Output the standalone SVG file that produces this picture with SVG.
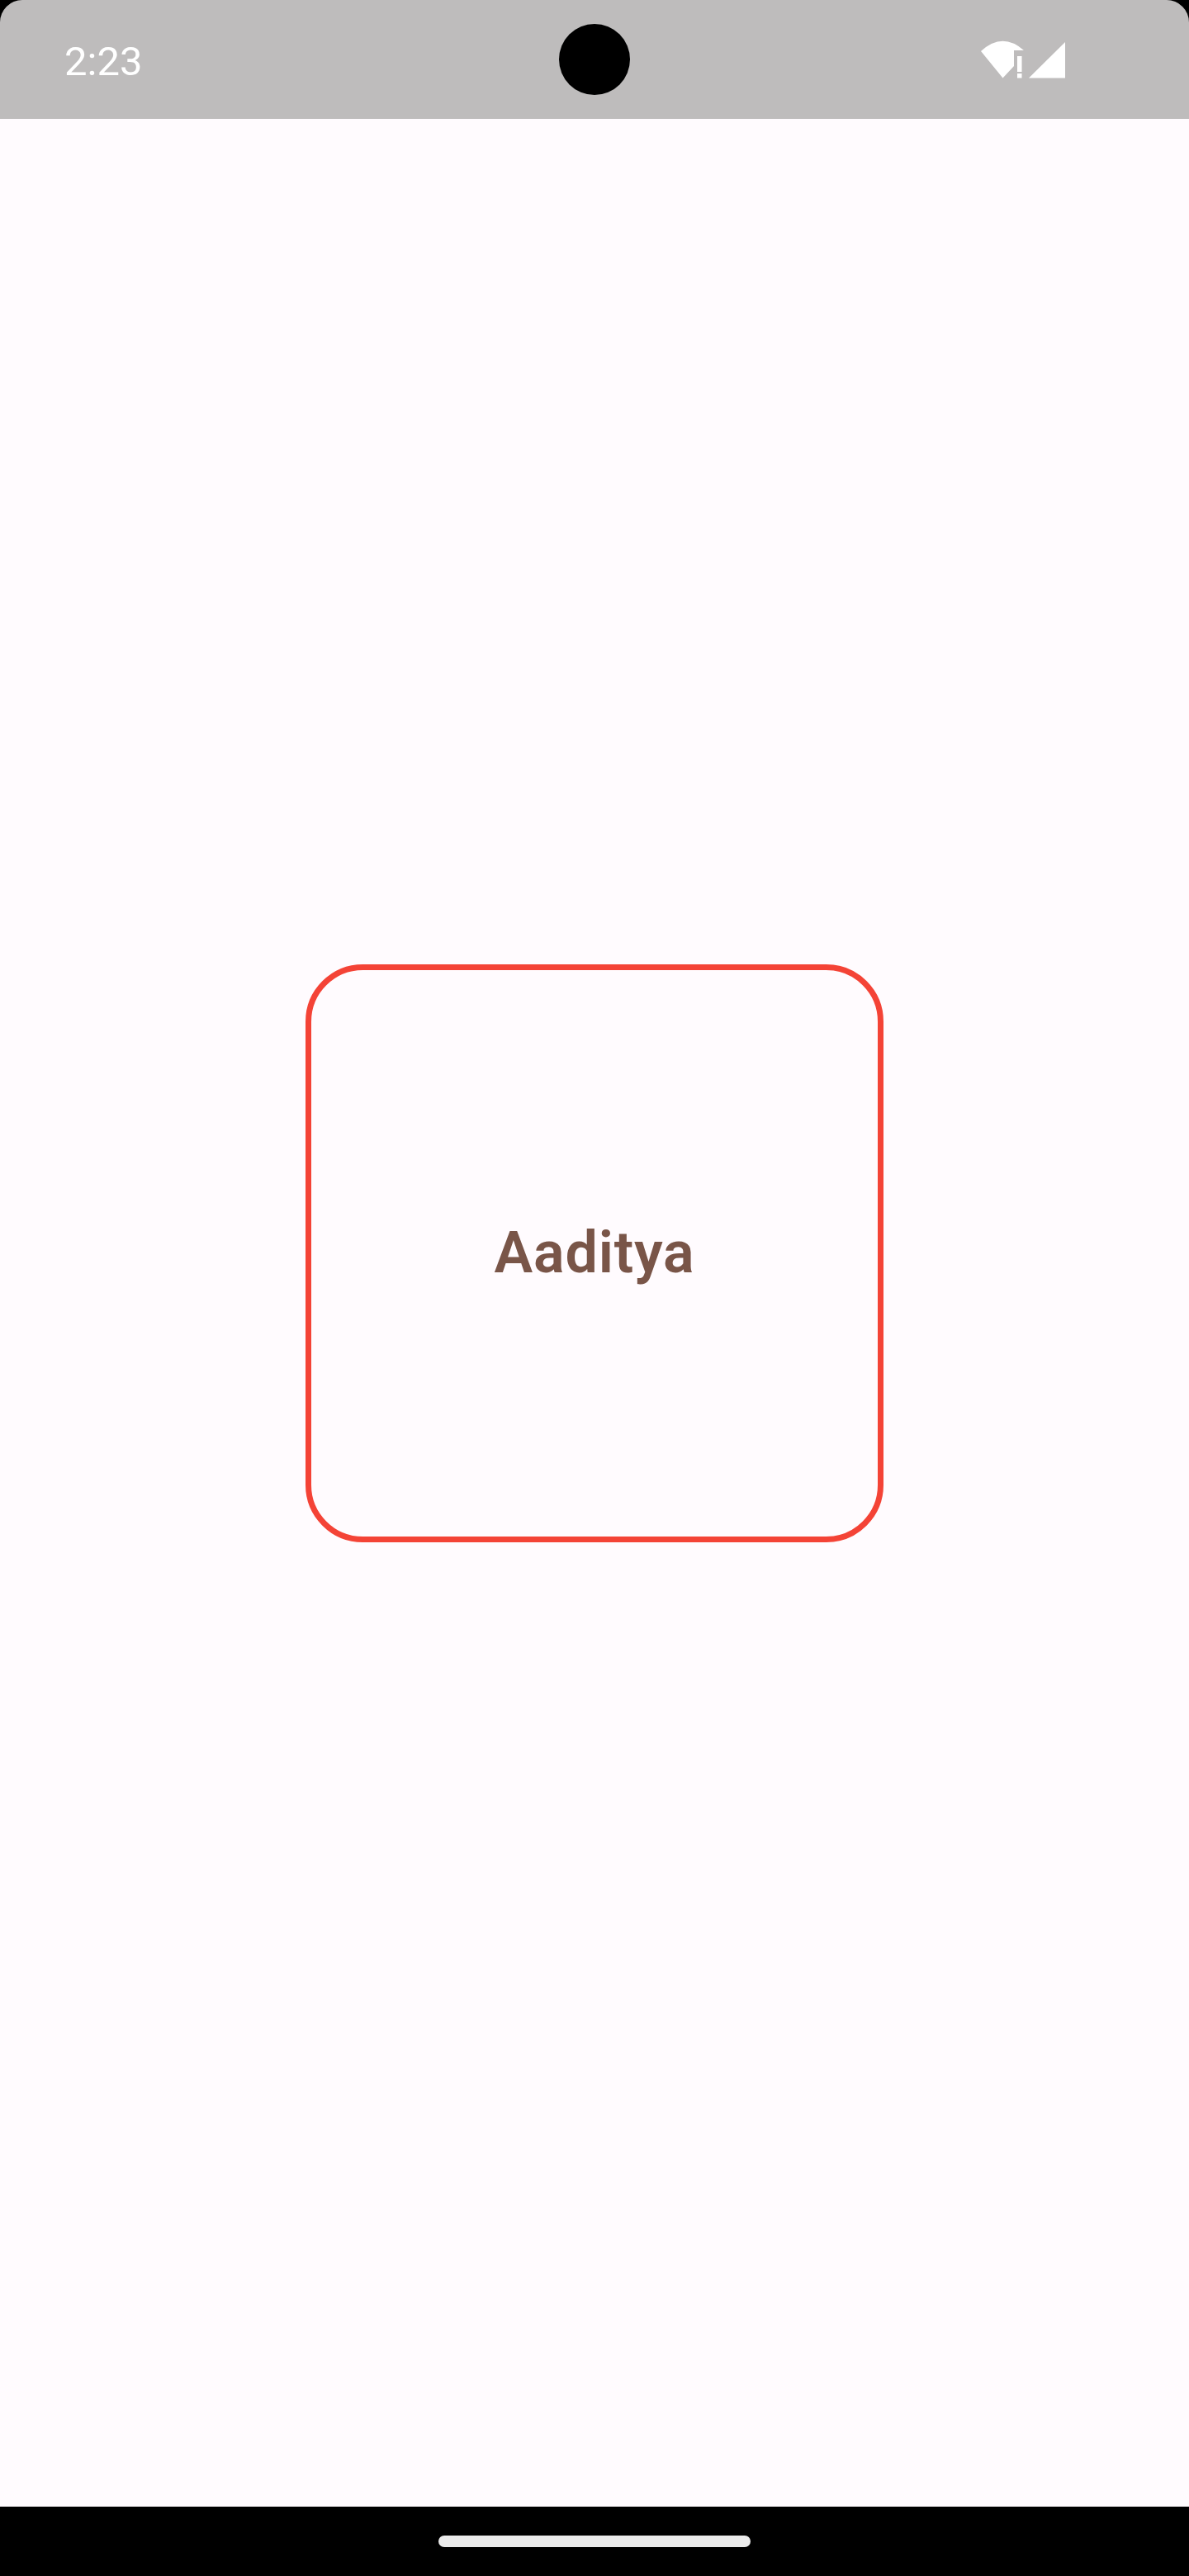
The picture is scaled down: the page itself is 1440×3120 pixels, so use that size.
<svg xmlns="http://www.w3.org/2000/svg" width="1440" height="3120" viewBox="0 0 1440 3120">
<style>
.ic{fill:#ffffff}
.t{font-family:Roboto,"Liberation Sans",sans-serif}
</style>
<rect width="1440" height="3120" fill="#fffbfe"/>
<g id="status-bar">
<rect width="1440" height="144" fill="#000000"/>
<path d="M0 144V27A27 27 0 0 1 27 0H1413A27 27 0 0 1 1440 27V144Z" fill="#bebcbc"/>
<text class="t" x="78" y="91" font-size="49" fill="#ffffff">2:23</text>
<circle cx="720" cy="72" r="43" fill="#000000"/>
<path class="ic" d="M1188 62Q1214 38 1240 61H1228V80L1214.500 94.500Z"/>
<path class="ic" d="M1232 68h5.500v19h-5.500zM1232 89h5.500v5.500h-5.500z"/>
<path class="ic" d="M1246 94.500L1290 51V94.500Z"/>
</g>
<g id="card">
<rect x="373.500" y="1171.500" width="693" height="693" rx="66" ry="66" fill="none" stroke="#f44336" stroke-width="7"/>
<text class="t" x="720" y="1541" font-size="70" font-weight="600" letter-spacing="0.800" fill="#795548" text-anchor="middle">Aaditya</text>
</g>
<g id="nav-bar">
<rect y="3036" width="1440" height="84" fill="#000000"/>
<rect x="531" y="3071" width="378" height="14" rx="7" fill="#ebebeb"/>
</g>
</svg>
